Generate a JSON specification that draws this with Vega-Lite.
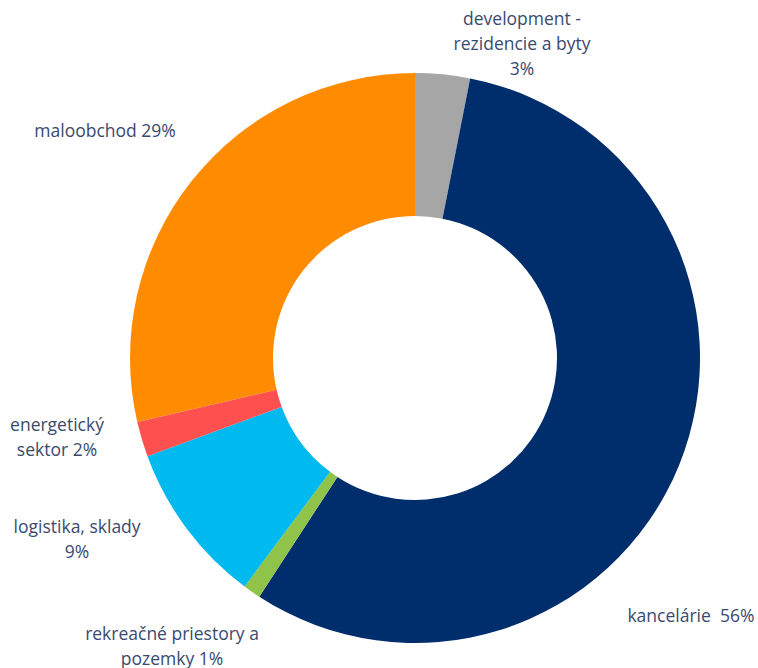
{
  "$schema": "https://vega.github.io/schema/vega-lite/v6.json",
  "autosize": "none",
  "width": 686,
  "height": 620,
  "padding": {"left": 72, "top": 48, "right": 0, "bottom": 0},
  "background": "white",
  "view": {"stroke": null},
  "data": {
    "values": [
      {"ord": 1, "category": "development - rezidencie a byty", "value": 3.1, "label": "development -\nrezidencie a byty\n3%", "lp": 4.88, "lr": 354.5},
      {"ord": 2, "category": "kancelárie", "value": 56.1, "label": "kancelárie\u00a0 56%", "lp": 37.0, "lr": 378.5},
      {"ord": 3, "category": "rekreačné priestory a pozemky", "value": 1.0, "label": "rekreačné priestory a\npozemky 1%", "lp": 61.46, "lr": 368.5},
      {"ord": 4, "category": "logistika, sklady", "value": 9.2, "label": "logistika, sklady\n9%", "lp": 67.58, "lr": 378.3},
      {"ord": 5, "category": "energetický sektor", "value": 2.0, "label": "energetický\nsektor 2%", "lp": 72.01, "lr": 364.4},
      {"ord": 6, "category": "maloobchod", "value": 28.6, "label": "maloobchod 29%", "lp": 85.03, "lr": 383.6}
    ]
  },
  "layer": [
    {
      "mark": {"type": "arc", "outerRadius": 285, "innerRadius": 142},
      "encoding": {
        "theta": {"field": "value", "type": "quantitative", "stack": true, "scale": {"domain": [0, 100]}},
        "order": {"field": "ord", "type": "quantitative"},
        "color": {
          "field": "category",
          "type": "nominal",
          "legend": null,
          "scale": {
            "domain": ["development - rezidencie a byty", "kancelárie", "rekreačné priestory a pozemky", "logistika, sklady", "energetický sektor", "maloobchod"],
            "range": ["#A6A6A6", "#002D6B", "#8FC34A", "#00B9EF", "#FF5050", "#FF8C00"]
          }
        }
      }
    },
    {
      "mark": {"type": "text", "align": "center", "baseline": "middle", "lineBreak": "\n", "lineHeight": 25, "font": "Open Sans", "fontSize": 17.5, "color": "#3A4A6E"},
      "encoding": {
        "theta": {"field": "lp", "type": "quantitative", "stack": null, "scale": {"domain": [0, 100]}},
        "radius": {"field": "lr", "type": "quantitative", "scale": {"type": "linear", "domain": [0, 400], "range": [0, 400], "zero": true}},
        "text": {"field": "label", "type": "nominal"}
      }
    }
  ],
  "resolve": {"scale": {"theta": "independent"}}
}
